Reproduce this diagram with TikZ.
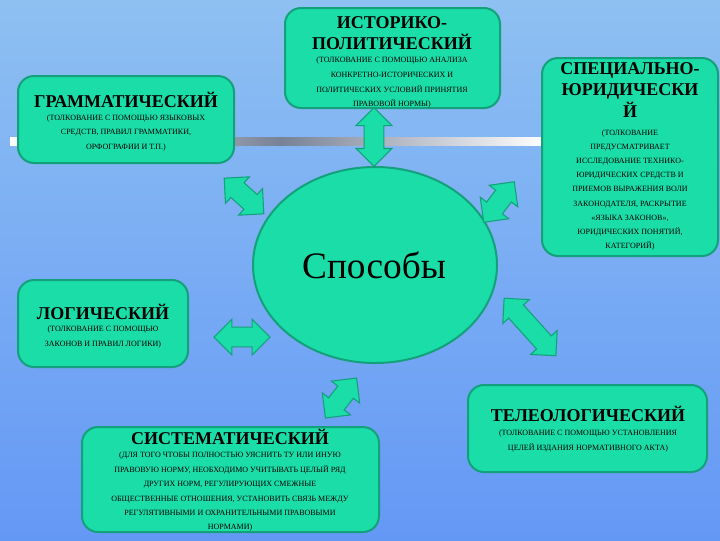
\documentclass[tikz,border=0pt]{standalone}
\usepackage{fontspec}
\setmainfont{Liberation Serif}
\usetikzlibrary{shapes.arrows}
\definecolor{tq}{HTML}{1ADDA8}
\definecolor{tqd}{HTML}{14A07A}
\tikzset{
 box/.style={draw=tqd,line width=1.5pt,fill=tq,rounded corners=12pt},
 ttl/.style={font=\bfseries\fontsize{13.5}{16}\selectfont,align=center,inner sep=0},
 sm/.style={font=\fontsize{6}{11}\selectfont,align=center,inner sep=0},
 dar/.style={double arrow,draw=tqd,line width=0.8pt,fill=tq,double arrow head extend=6pt,inner xsep=0pt,inner ysep=0pt,anchor=center}
}
\newcommand{\shaft}{\rule{0pt}{14pt}}
\begin{document}
\begin{tikzpicture}[x=0.75pt,y=-0.75pt]
\shade[top color={rgb,255:red,142;green,192;blue,242},middle color={rgb,255:red,200;green,220;blue,242},bottom color={rgb,255:red,100;green,152;blue,245}] (0,0) rectangle (720,540);
\useasboundingbox (0,0) rectangle (720,540);
\shade[left color=white,right color={rgb,255:red,120;green,130;blue,150}] (10,137) rectangle (280,145);
\shade[left color={rgb,255:red,120;green,130;blue,150},right color=white] (280,137) rectangle (545,145);
% boxes
\draw[box] (285,8) rectangle (500,108);
\draw[box] (18,76) rectangle (234,163);
\draw[box] (542,58) rectangle (718,256);
\draw[box] (18,280) rectangle (188,367);
\draw[box] (82,427) rectangle (379,532);
\draw[box] (468,385) rectangle (707,472);
\draw[tqd,line width=1.5pt,fill=tq] (375,265) ellipse (122 and 98);
\node[font=\fontsize{28}{28}\selectfont] (c) at (374,265) {Способы};
% texts
\node[ttl] (t1) at (392,33) {ИСТОРИКО-\\ПОЛИТИЧЕСКИЙ};
\node[sm] (s1) at (392,83) {(ТОЛКОВАНИЕ С ПОМОЩЬЮ АНАЛИЗА\\КОНКРЕТНО-ИСТОРИЧЕСКИХ И\\ПОЛИТИЧЕСКИХ УСЛОВИЙ ПРИНЯТИЯ\\ПРАВОВОЙ НОРМЫ)};
\node[ttl] (t2) at (126,100) {ГРАММАТИЧЕСКИЙ};
\node[sm] (s2) at (126,133) {(ТОЛКОВАНИЕ С ПОМОЩЬЮ ЯЗЫКОВЫХ\\СРЕДСТВ, ПРАВИЛ ГРАММАТИКИ,\\ОРФОГРАФИИ И Т.П.)};
\node[ttl] (t3) at (630,90) {СПЕЦИАЛЬНО-\\ЮРИДИЧЕСКИ\\Й};
\node[sm,font=\fontsize{6}{10.6}\selectfont] (s3) at (630,190) {(ТОЛКОВАНИЕ\\ПРЕДУСМАТРИВАЕТ\\ИССЛЕДОВАНИЕ ТЕХНИКО-\\ЮРИДИЧЕСКИХ СРЕДСТВ И\\ПРИЕМОВ ВЫРАЖЕНИЯ ВОЛИ\\ЗАКОНОДАТЕЛЯ, РАСКРЫТИЕ\\«ЯЗЫКА ЗАКОНОВ»,\\ЮРИДИЧЕСКИХ ПОНЯТИЙ,\\КАТЕГОРИЙ)};
\node[ttl] (t4) at (103,312) {ЛОГИЧЕСКИЙ};
\node[sm] (s4) at (103,337) {(ТОЛКОВАНИЕ С ПОМОЩЬЮ\\ЗАКОНОВ И ПРАВИЛ ЛОГИКИ)};
\node[ttl] (t5) at (230,437) {СИСТЕМАТИЧЕСКИЙ};
\node[sm,font=\fontsize{6}{10.8}\selectfont] (s5) at (230,492) {(ДЛЯ ТОГО ЧТОБЫ ПОЛНОСТЬЮ УЯСНИТЬ ТУ ИЛИ ИНУЮ\\ПРАВОВУЮ НОРМУ, НЕОБХОДИМО УЧИТЫВАТЬ ЦЕЛЫЙ РЯД\\ДРУГИХ НОРМ, РЕГУЛИРУЮЩИХ СМЕЖНЫЕ\\ОБЩЕСТВЕННЫЕ ОТНОШЕНИЯ, УСТАНОВИТЬ СВЯЗЬ МЕЖДУ\\РЕГУЛЯТИВНЫМИ И ОХРАНИТЕЛЬНЫМИ ПРАВОВЫМИ\\НОРМАМИ)};
\node[ttl] (t6) at (588,414) {ТЕЛЕОЛОГИЧЕСКИЙ};
\node[sm] (s6) at (588,441) {(ТОЛКОВАНИЕ С ПОМОЩЬЮ УСТАНОВЛЕНИЯ\\ЦЕЛЕЙ ИЗДАНИЯ НОРМАТИВНОГО АКТА)};
% double arrows
\node[dar,minimum height=44pt,rotate=90] (a1) at (374,137) {\shaft};
\node[dar,minimum height=40pt,rotate=-42] (a2) at (244,196) {\shaft};
\node[dar,minimum height=38pt,rotate=53] (a3) at (499,202) {\shaft};
\node[dar,minimum height=42pt,rotate=0] (a4) at (242,337) {\shaft};
\node[dar,minimum height=58pt,rotate=-48] (a5) at (530,327) {\shaft};
\node[dar,minimum height=38pt,rotate=52] (a6) at (341,398) {\shaft};
\end{tikzpicture}
\end{document}
